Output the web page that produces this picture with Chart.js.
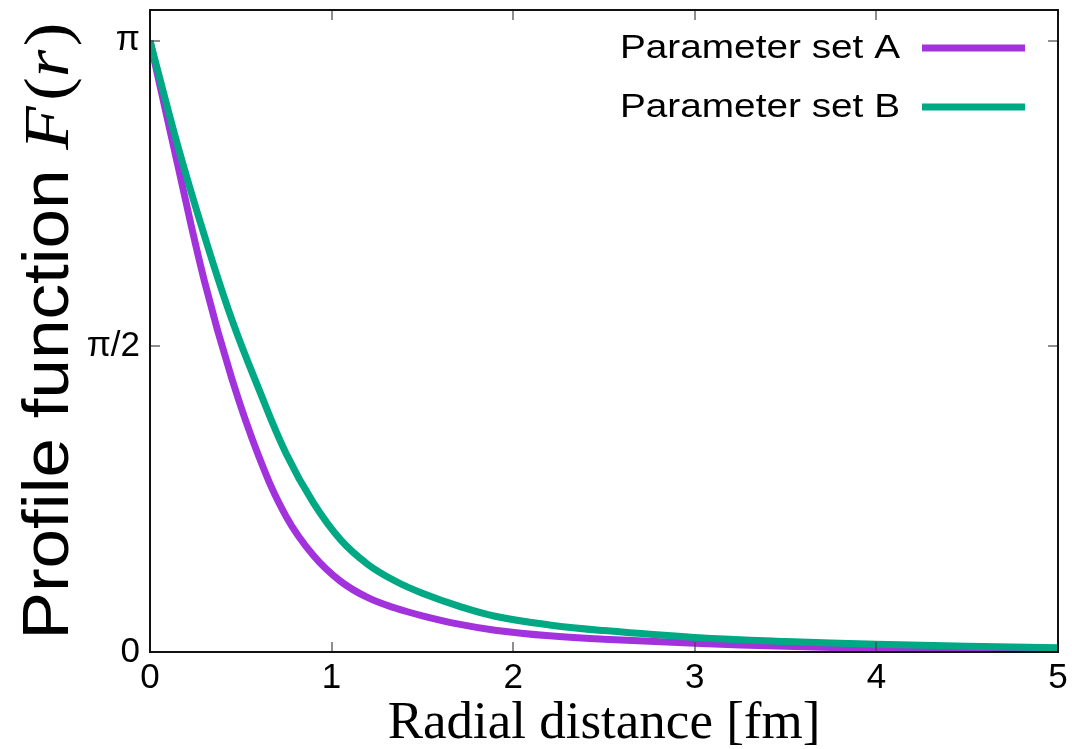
<!DOCTYPE html>
<html>
<head>
<meta charset="utf-8">
<script src="https://cdn.jsdelivr.net/npm/chart.js@4/dist/chart.umd.min.js"></script>
<style>
  html, body { margin: 0; padding: 0; background: #fff; }
  #wrap { width: 1072px; height: 749px; position: relative; }
</style>
</head>
<body>
<div id="wrap"><canvas id="profile"></canvas></div>
<script>
// Radial distance r [fm] and profile values F(r) [rad]
const radiusA = [0, 0.15, 0.3, 0.45, 0.6, 0.75, 0.9, 1.05, 1.2, 1.35, 1.5, 1.7, 1.9, 2.2, 2.5, 3.0, 3.5, 4.0, 4.5, 5.0];
const profileA = [3.1416, 2.515, 1.905, 1.407, 1.004, 0.696, 0.496, 0.363, 0.279, 0.226, 0.186, 0.143, 0.112, 0.083, 0.066, 0.045, 0.029, 0.019, 0.013, 0.009];

const radiusB = [0, 0.15, 0.3, 0.45, 0.6, 0.75, 0.9, 1.05, 1.2, 1.35, 1.5, 1.7, 1.9, 2.2, 2.5, 3.0, 3.5, 4.0, 4.5, 5.0];
const profileB = [3.1416, 2.612, 2.139, 1.711, 1.350, 1.019, 0.766, 0.576, 0.450, 0.365, 0.302, 0.236, 0.184, 0.139, 0.110, 0.075, 0.054, 0.040, 0.030, 0.022];

const xTicks = [0, 1, 2, 3, 4, 5];
const yTickValues = [0, Math.PI / 2, Math.PI];
const yTickLabels = ['0', 'π/2', 'π'];
const yMax = 3.3;

const SANS = '"Liberation Sans", Helvetica, Arial, sans-serif';
const SERIF = '"Liberation Serif", "Times New Roman", serif';

const toPoints = (xs, ys) => xs.map((x, i) => ({ x, y: ys[i] }));

// gnuplot-style frame with inward ticks, mirrored on all sides
const framePlugin = {
  id: 'frame',
  afterDraw(chart) {
    const { ctx, chartArea: a, scales } = chart;
    ctx.save();
    ctx.fillStyle = '#444';
    const len = 10;
    xTicks.forEach(v => {
      const px = Math.round(scales.x.getPixelForValue(v));
      ctx.fillRect(px - 0.6, a.bottom - len, 1.2, len);
      ctx.fillRect(px - 0.6, a.top, 1.2, len);
    });
    yTickValues.forEach(v => {
      const py = Math.round(scales.y.getPixelForValue(v));
      ctx.fillRect(a.left, py - 0.6, len, 1.2);
      ctx.fillRect(a.right - len, py - 0.6, len, 1.2);
    });
    ctx.fillStyle = '#111';
    const w = a.right - a.left, h = a.bottom - a.top;
    ctx.fillRect(a.left - 1, a.top - 1, w + 2, 2);
    ctx.fillRect(a.left - 1, a.bottom - 1, w + 2, 2);
    ctx.fillRect(a.left - 1, a.top - 1, 2, h + 2);
    ctx.fillRect(a.right - 1, a.top - 1, 2, h + 2);
    ctx.restore();
  }
};

// key in the upper right: label text followed by a line sample
const keyPlugin = {
  id: 'key',
  afterDraw(chart) {
    const { ctx } = chart;
    const rows = chart.data.datasets;
    ctx.save();
    ctx.font = '34px ' + SANS;
    ctx.textBaseline = 'alphabetic';
    ctx.fillStyle = '#000';
    rows.forEach((ds, i) => {
      const y = 48 + i * 59;
      const tw = ctx.measureText(ds.label).width * 1.14;
      ctx.save();
      ctx.translate(900 - tw, y + 10);
      ctx.scale(1.14, 1);
      ctx.fillText(ds.label, 0, 0);
      ctx.restore();
      ctx.strokeStyle = ds.borderColor;
      ctx.lineWidth = 7;
      ctx.beginPath();
      ctx.moveTo(922, y);
      ctx.lineTo(1025, y);
      ctx.stroke();
    });
    ctx.restore();
  }
};

// axis titles: sans text with an italic serif F(r)
const titlePlugin = {
  id: 'titles',
  afterDraw(chart) {
    const { ctx, chartArea: a } = chart;
    ctx.save();
    ctx.fillStyle = '#000';
    ctx.textBaseline = 'alphabetic';

    ctx.font = '53px ' + SERIF;
    ctx.textAlign = 'center';
    ctx.fillText('Radial distance [fm]', (a.left + a.right) / 2, 738);

    const fontA = '64px ' + SANS;
    const fontF = 'italic 64px ' + SERIF;
    const fontP = '64px ' + SERIF;
    const parts = [['Profile function ', fontA, 0], ['F', fontF, 5], ['(', fontP, 0], ['r', fontF, 3], [')', fontP, 0]];
    const widths = parts.map(([t, f, extra]) => { ctx.font = f; return ctx.measureText(t).width + extra; });
    const total = widths.reduce((s, w) => s + w, 0);
    const stretch = 1.11;

    ctx.translate(68, 331);
    ctx.rotate(-Math.PI / 2);
    ctx.scale(stretch, 1);
    ctx.textAlign = 'left';
    let x = -total / 2;
    parts.forEach(([t, f], i) => {
      ctx.font = f;
      ctx.fillText(t, x, 0);
      x += widths[i];
    });
    ctx.restore();
  }
};

new Chart(document.getElementById('profile'), {
  type: 'line',
  data: {
    datasets: [
      {
        label: 'Parameter set A',
        data: toPoints(radiusA, profileA),
        borderColor: '#a232dc',
        borderWidth: 7,
        pointRadius: 0,
        tension: 0.4,
        order: 1
      },
      {
        label: 'Parameter set B',
        data: toPoints(radiusB, profileB),
        borderColor: '#00a884',
        borderWidth: 7,
        pointRadius: 0,
        tension: 0.4,
        order: 0
      }
    ]
  },
  options: {
    responsive: true,
    maintainAspectRatio: false,
    animation: false,
    layout: { padding: { top: 10, right: 14, left: 0, bottom: 0 } },
    plugins: {
      legend: { display: false },
      tooltip: { enabled: false }
    },
    scales: {
      x: {
        type: 'linear',
        min: 0,
        max: 5,
        grid: { display: false, drawTicks: false },
        border: { display: false },
        afterFit: s => { s.height = 97; s.paddingLeft = 0; s.paddingRight = 0; },
        afterBuildTicks: s => { s.ticks = xTicks.map(v => ({ value: v })); },
        ticks: {
          color: '#000',
          padding: 5,
          font: { family: SANS, size: 35 },
          maxRotation: 0
        }
      },
      y: {
        type: 'linear',
        min: 0,
        max: yMax,
        grid: { display: false, drawTicks: false },
        border: { display: false },
        afterFit: s => { s.width = 150; s.paddingTop = 0; s.paddingBottom = 0; },
        afterBuildTicks: s => { s.ticks = yTickValues.map(v => ({ value: v })); },
        ticks: {
          color: '#000',
          padding: 10,
          font: { family: SANS, size: 35 },
          callback: (v, i) => yTickLabels[i]
        }
      }
    }
  },
  plugins: [framePlugin, keyPlugin, titlePlugin]
});
</script>
</body>
</html>
